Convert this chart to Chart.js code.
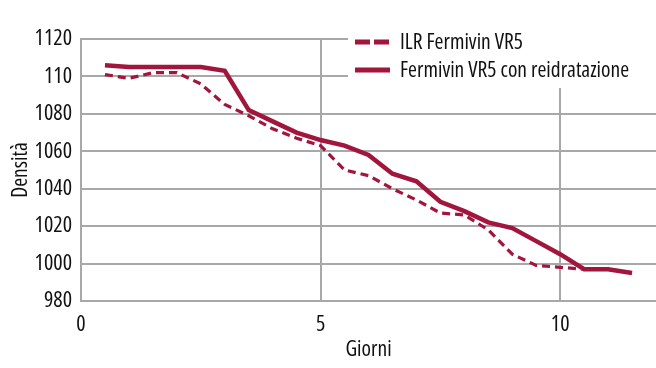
<!DOCTYPE html>
<html>
<head>
<meta charset="utf-8">
<script src="https://cdn.jsdelivr.net/npm/chart.js@4.4.1/dist/chart.umd.min.js"></script>
<style>
  html,body{margin:0;padding:0;background:#fff;}
  #wrap{width:656px;height:368px;position:relative;}
</style>
</head>
<body>
<div id="wrap"><canvas id="chart"></canvas></div>
<script>
// data
const giorni = [0.5,1,1.5,2,2.5,3,3.5,4,4.5,5,5.5,6,6.5,7,7.5,8,8.5,9,9.5,10,10.5,11,11.5];
const ilrFermivin = [1101,1099,1102,1102,1096,1085,1079,1072,1067,1063,1050,1047,1040,1034,1027,1026,1018,1005,999,998,997];
const conReidratazione = [1106,1105,1105,1105,1105,1103,1082,1076,1070,1066,1063,1058,1048,1044,1033,1028,1022,1019,1012,1005,997,997,995];
const seriesNames = ['ILR Fermivin VR5','Fermivin VR5 con reidratazione'];
const yTicks = [980,1000,1020,1040,1060,1080,1100,1120];
const yTickLabels = ['980','1000','1020','1040','1060','1080','110','1120'];
const xTicks = [0,5,10];

const RED = '#a2153c';
const GRID = '#a8a8a8';
const FAMILY = "'Open Sans', sans-serif";
const STRETCH = 'condensed'; // goes in the weight slot of the font string
const TXT = '#111';
const fnt = (size) => ({family:FAMILY, size, weight:STRETCH});

const toPoints = (vals) => vals.map((v,i)=>({x:giorni[i], y:v}));

// legend drawn in the top right corner, over the grid
const legendBox = {
  id:'legendBox',
  afterDraw(chart){
    const ctx = chart.ctx;
    ctx.save();
    ctx.fillStyle = '#fff';
    ctx.fillRect(348,22,308,66);
    const rows = [{y:42, dash:[15,4]}, {y:70, dash:[]}];
    rows.forEach((r,i)=>{
      ctx.strokeStyle = RED;
      ctx.lineWidth = 5;
      ctx.lineCap = 'butt';
      ctx.setLineDash(r.dash);
      ctx.beginPath();
      ctx.moveTo(355,r.y); ctx.lineTo(390,r.y);
      ctx.stroke();
      ctx.setLineDash([]);
      ctx.fillStyle = TXT;
      ctx.font = STRETCH + ' 21.5px ' + FAMILY;
      ctx.textBaseline = 'middle';
      ctx.fillText(seriesNames[i], 400, r.y+1);
    });
    ctx.restore();
  }
};

new Chart(document.getElementById('chart'), {
  type:'line',
  data:{
    datasets:[
      { label:seriesNames[0], data:toPoints(ilrFermivin), borderColor:RED, borderWidth:3.2,
        borderDash:[8,5], pointRadius:0, tension:0, fill:false },
      { label:seriesNames[1], data:toPoints(conReidratazione), borderColor:RED, borderWidth:4.5,
        pointRadius:0, tension:0, fill:false }
    ]
  },
  options:{
    responsive:true,
    maintainAspectRatio:false,
    animation:false,
    layout:{padding:{top:39,right:0,left:0,bottom:0}},
    plugins:{legend:{display:false}, tooltip:{enabled:false}},
    scales:{
      x:{
        type:'linear', min:0, max:12,
        afterBuildTicks: s => { s.ticks = xTicks.map(v=>({value:v})); },
        afterFit: s => { s.height = 67; },
        grid:{color:GRID, lineWidth:2, drawTicks:false},
        border:{display:false},
        ticks:{color:TXT, font:fnt(22), padding:11, maxRotation:0},
        title:{display:true, text:'Giorni', color:TXT, font:fnt(21.5), padding:{top:0,bottom:5}}
      },
      y:{
        min:980, max:1120,
        afterBuildTicks: s => { s.ticks = yTicks.map(v=>({value:v})); },
        afterFit: s => { s.width = 81; },
        grid:{color:GRID, lineWidth:2, drawTicks:false},
        border:{color:GRID, width:2},
        ticks:{color:TXT, font:fnt(22), padding:9,
          callback:(v)=>{ const i = yTicks.indexOf(v); return i<0 ? '' : yTickLabels[i]; }},
        title:{display:true, text:'Densità', color:TXT, font:fnt(21.5), padding:{top:8,bottom:0}}
      }
    }
  },
  plugins:[legendBox]
});
</script>
</body>
</html>
